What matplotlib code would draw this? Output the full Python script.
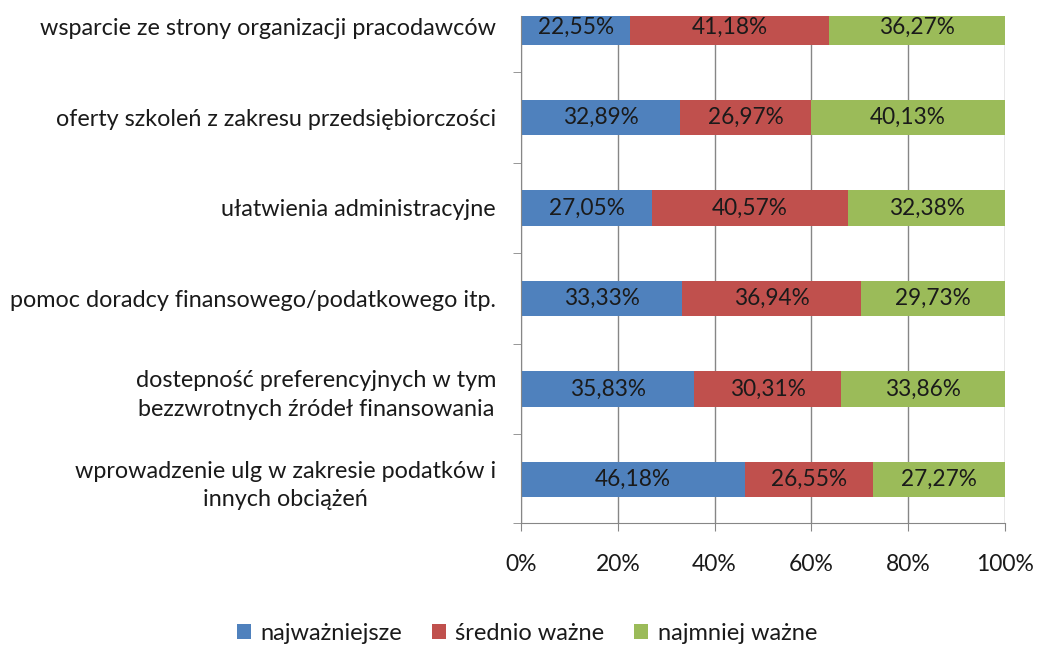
import matplotlib
matplotlib.use("Agg")
import matplotlib.pyplot as plt
from matplotlib.patches import Patch

plt.rcParams['font.family'] = ['Lato', 'DejaVu Sans']

categories = [
    "wprowadzenie ulg w zakresie podatków i\ninnych obciążeń",
    "dostepność preferencyjnych w tym\nbezzwrotnych źródeł finansowania",
    "pomoc doradcy finansowego/podatkowego itp.",
    "ułatwienia administracyjne",
    "oferty szkoleń z zakresu przedsiębiorczości",
    "wsparcie ze strony organizacji pracodawców",
]
najwazniejsze = [46.18, 35.83, 33.33, 27.05, 32.89, 22.55]
srednio_wazne = [26.55, 30.31, 36.94, 40.57, 26.97, 41.18]
najmniej_wazne = [27.27, 33.86, 29.73, 32.38, 40.13, 36.27]
series_names = ["najważniejsze", "średnio ważne", "najmniej ważne"]
colors = ["#4F81BD", "#C0504D", "#9BBB59"]
x_ticks = [0, 20, 40, 60, 80, 100]
x_tick_labels = ["0%", "20%", "40%", "60%", "80%", "100%"]

W, H = 1038, 645
fig = plt.figure(figsize=(W / 100, H / 100), dpi=100)
ax = fig.add_axes([521 / W, 1 - 523 / H, (1005 - 521) / W, (523 - 16) / H])

ypos = list(range(len(categories)))
left = [0.0] * len(categories)
for vals, col in zip([najwazniejsze, srednio_wazne, najmniej_wazne], colors):
    bars = ax.barh(ypos, vals, left=left, height=0.39, color=col, zorder=3)
    for b, v in zip(bars, vals):
        ax.text(b.get_x() + b.get_width() / 2, b.get_y() + b.get_height() / 2,
                f"{v:.2f}%".replace(".", ","), ha="center", va="center",
                fontsize=16.3, color="#1a1a1a", zorder=4)
    left = [l + v for l, v in zip(left, vals)]

ax.set_xlim(0, 100)
ax.set_ylim(-0.48, 5.12)
ax.set_xticks(x_ticks)
ax.set_xticklabels(x_tick_labels, fontsize=16.5, color="#1a1a1a")
ax.set_yticks(ypos)
ax.set_yticklabels(categories, fontsize=16.8, multialignment="center",
                   linespacing=1.45, color="#1a1a1a")
ax.tick_params(axis="y", length=0, pad=18)
ax.tick_params(axis="x", length=6, color="#868686", pad=16)

# separator ticks between categories
ax.set_yticks([i + 0.5 for i in range(len(categories) - 1)] + [-0.48], minor=True)
ax.tick_params(axis="y", which="minor", length=6, color="#868686")

ax.grid(axis="x", color="#868686", linewidth=1, zorder=0)
for s in ["top", "right"]:
    ax.spines[s].set_visible(False)
for s in ["left", "bottom"]:
    ax.spines[s].set_color("#868686")
    ax.spines[s].set_zorder(5)

handles = [Patch(facecolor=c, edgecolor="none") for c in colors]
fig.legend(handles, series_names, loc="center", bbox_to_anchor=(527 / W, 1 - 633 / H),
           ncol=3, frameon=False, fontsize=17, handlelength=0.6, handleheight=0.6,
           columnspacing=1.25, handletextpad=0.4, labelcolor="#1a1a1a")

fig.savefig("out.png", dpi=100)
